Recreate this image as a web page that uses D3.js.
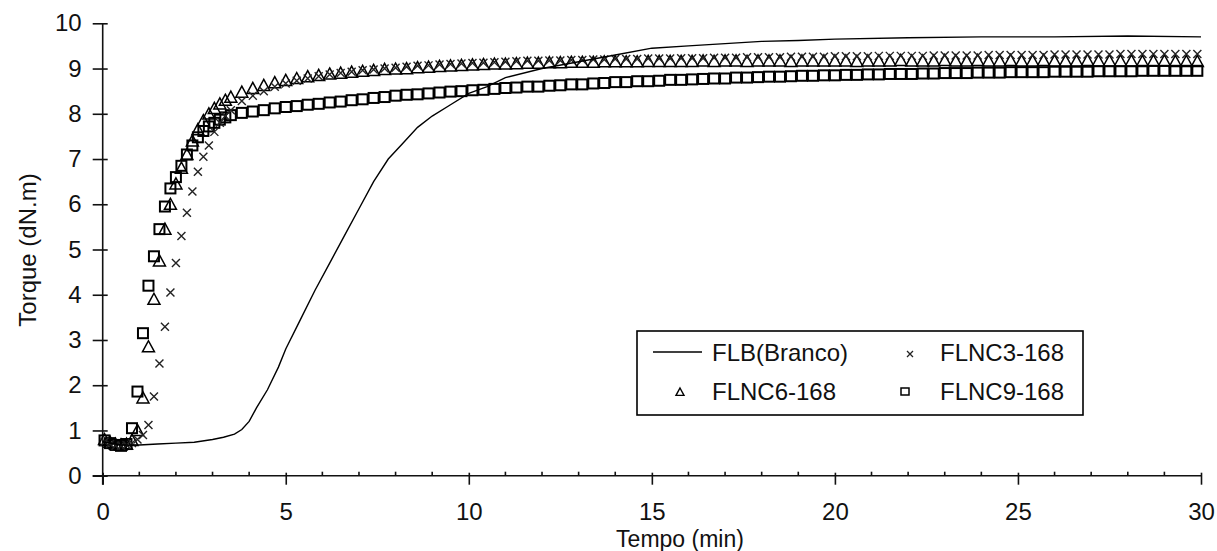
<!DOCTYPE html>
<html>
<head>
<meta charset="utf-8">
<script src="https://cdn.jsdelivr.net/npm/d3@7"></script>
<style>
body { margin: 0; background: #fff; }
text { font-family: "Liberation Sans", Arial, sans-serif; fill: #111; }
</style>
</head>
<body>
<svg id="chart" width="1217" height="551"></svg>
<script>
// tempo (min) das leituras dos ensaios com carga
var tempos = [0.05, 0.2, 0.35, 0.5, 0.65, 0.8, 0.95, 1.1, 1.25, 1.4, 1.55, 1.7, 1.85, 2.0, 2.15, 2.3,
  2.45, 2.6, 2.75, 2.9, 3.05, 3.2, 3.35, 3.5,
  3.8, 4.1, 4.4, 4.7, 5.0, 5.3, 5.6, 5.9, 6.2, 6.5, 6.8, 7.1, 7.4, 7.7, 8.0, 8.3, 8.6, 8.9, 9.2, 9.5, 9.8,
  10.1, 10.4, 10.7, 11.0, 11.3, 11.6, 11.9, 12.2, 12.5, 12.8, 13.1, 13.4, 13.7, 14.0, 14.3, 14.6, 14.9,
  15.2, 15.5, 15.8, 16.1, 16.4, 16.7, 17.0, 17.3, 17.6, 17.9, 18.2, 18.5, 18.8, 19.1, 19.4, 19.7, 20.0,
  20.3, 20.6, 20.9, 21.2, 21.5, 21.8, 22.1, 22.4, 22.7, 23.0, 23.3, 23.6, 23.9, 24.2, 24.5, 24.8, 25.1,
  25.4, 25.7, 26.0, 26.3, 26.6, 26.9, 27.2, 27.5, 27.8, 28.1, 28.4, 28.7, 29.0, 29.3, 29.6, 29.9];

var flnc3 = [0.75, 0.7, 0.66, 0.66, 0.68, 0.72, 0.8, 0.9, 1.12, 1.75, 2.48, 3.29, 4.05, 4.7, 5.3, 5.81,
  6.28, 6.72, 7.05, 7.3, 7.6, 7.8, 7.95, 8.08,
  8.28, 8.4, 8.5, 8.6, 8.67, 8.73, 8.78, 8.83, 8.87, 8.9, 8.93, 8.96, 8.98, 9.0, 9.02, 9.04, 9.06, 9.07, 9.09, 9.1, 9.11,
  9.12, 9.13, 9.14, 9.15, 9.16, 9.17, 9.17, 9.18, 9.18, 9.19, 9.19, 9.2, 9.2, 9.21, 9.21, 9.21, 9.22,
  9.22, 9.22, 9.23, 9.23, 9.23, 9.24, 9.24, 9.24, 9.25, 9.25, 9.25, 9.25, 9.26, 9.26, 9.26, 9.26, 9.27,
  9.27, 9.27, 9.27, 9.28, 9.28, 9.28, 9.28, 9.28, 9.29, 9.29, 9.29, 9.29, 9.29, 9.3, 9.3, 9.3, 9.3,
  9.3, 9.3, 9.31, 9.31, 9.31, 9.31, 9.31, 9.31, 9.32, 9.32, 9.32, 9.32, 9.32, 9.32, 9.32, 9.32];

var flnc6 = [0.8, 0.74, 0.7, 0.68, 0.7, 0.78, 1.0, 1.72, 2.85, 3.9, 4.75, 5.45, 6.0, 6.45, 6.8, 7.1,
  7.4, 7.65, 7.85, 8.0, 8.12, 8.22, 8.3, 8.37,
  8.48, 8.56, 8.63, 8.69, 8.74, 8.78, 8.82, 8.85, 8.88, 8.9, 8.92, 8.94, 8.96, 8.98, 8.99, 9.0, 9.02, 9.03, 9.05, 9.06, 9.07,
  9.08, 9.09, 9.1, 9.1, 9.11, 9.12, 9.12, 9.13, 9.13, 9.14, 9.14, 9.14, 9.15, 9.15, 9.15, 9.15, 9.16,
  9.16, 9.16, 9.16, 9.16, 9.17, 9.16, 9.17, 9.17, 9.16, 9.17, 9.17, 9.17, 9.16, 9.17, 9.17, 9.17, 9.17,
  9.17, 9.16, 9.17, 9.17, 9.17, 9.18, 9.17, 9.17, 9.17, 9.18, 9.17, 9.17, 9.18, 9.17, 9.17, 9.18, 9.17,
  9.17, 9.18, 9.17, 9.17, 9.17, 9.18, 9.17, 9.17, 9.17, 9.17, 9.16, 9.17, 9.17, 9.16, 9.16, 9.16];

var flnc9 = [0.78, 0.72, 0.68, 0.66, 0.7, 1.05, 1.86, 3.15, 4.2, 4.85, 5.45, 5.95, 6.35, 6.6, 6.85, 7.1,
  7.3, 7.48, 7.62, 7.72, 7.8, 7.87, 7.92, 7.97,
  8.02, 8.05, 8.08, 8.12, 8.15, 8.17, 8.2, 8.22, 8.25, 8.27, 8.3, 8.32, 8.35, 8.37, 8.4, 8.42, 8.43, 8.45, 8.47, 8.49, 8.5,
  8.52, 8.53, 8.55, 8.57, 8.58, 8.6, 8.6, 8.62, 8.63, 8.65, 8.65, 8.67, 8.68, 8.7, 8.7, 8.72, 8.72,
  8.73, 8.75, 8.75, 8.76, 8.77, 8.78, 8.78, 8.8, 8.8, 8.81, 8.82, 8.82, 8.83, 8.84, 8.84, 8.85, 8.85,
  8.86, 8.86, 8.87, 8.87, 8.88, 8.88, 8.88, 8.89, 8.89, 8.9, 8.9, 8.9, 8.91, 8.91, 8.91, 8.92, 8.92,
  8.92, 8.92, 8.93, 8.93, 8.93, 8.93, 8.94, 8.94, 8.94, 8.94, 8.95, 8.95, 8.95, 8.95, 8.95, 8.95];

// branco (linha continua)
var tempoBranco = [0, 0.5, 1, 1.5, 2, 2.5, 3, 3.3, 3.6, 3.8, 4.0, 4.2, 4.5, 4.8, 5.0, 5.4, 5.8, 6.2, 6.6,
  7.0, 7.4, 7.8, 8.2, 8.6, 9.0, 9.5, 10, 10.5, 11, 12, 13, 14, 15, 16, 17, 18, 19, 20, 22, 24, 26, 28, 30];
var flb = [0.75, 0.68, 0.68, 0.7, 0.72, 0.74, 0.8, 0.85, 0.92, 1.02, 1.2, 1.5, 1.9, 2.4, 2.8, 3.45, 4.1,
  4.7, 5.3, 5.9, 6.5, 7.0, 7.35, 7.7, 7.95, 8.2, 8.45, 8.6, 8.8, 9.0, 9.15, 9.3, 9.45, 9.5, 9.55, 9.6,
  9.62, 9.65, 9.68, 9.7, 9.7, 9.72, 9.7];

var xTicks = [0, 5, 10, 15, 20, 25, 30];
var yTicks = [0, 1, 2, 3, 4, 5, 6, 7, 8, 9, 10];
var legendas = ["FLB(Branco)", "FLNC3-168", "FLNC6-168", "FLNC9-168"];

var svg = d3.select("#chart");

var x = d3.scaleLinear().domain([0, 30]).range([102.7, 1201]);
var y = d3.scaleLinear().domain([0, 10]).range([475.7, 23.3]);

// eixo y
var gy = svg.append("g")
  .attr("transform", "translate(" + x(0) + ",0)")
  .call(d3.axisLeft(y).tickValues(yTicks).tickSize(10).tickPadding(11));
gy.selectAll(".tick line").attr("x2", 5).attr("x1", -10).attr("stroke", "#111").attr("stroke-width", 1.6);
gy.select(".domain").attr("stroke", "#111").attr("stroke-width", 1.6)
  .attr("d", "M0," + y(10) + "V" + (y(0) + 9));
gy.selectAll(".tick text").attr("font-size", 24).attr("fill", "#111");

// eixo x
var gx = svg.append("g")
  .attr("transform", "translate(0," + y(0) + ")")
  .call(d3.axisBottom(x).tickValues(xTicks).tickSize(9).tickPadding(18));
gx.selectAll(".tick line").attr("y1", -3).attr("stroke", "#111").attr("stroke-width", 1.6);
gx.select(".domain").attr("stroke", "#111").attr("stroke-width", 1.6)
  .attr("d", "M" + (x(0) - 10) + ",0H" + x(30));
gx.selectAll(".tick text").attr("font-size", 24).attr("fill", "#111");

// marcas menores
var minors = d3.range(0, 31).filter(function(d) { return d % 5 != 0; });
gx.selectAll(".minor").data(minors).enter().append("line")
  .attr("class", "minor")
  .attr("x1", function(d) { return x(d); })
  .attr("x2", function(d) { return x(d); })
  .attr("y1", -4).attr("y2", 0)
  .attr("stroke", "#111").attr("stroke-width", 1.6);

svg.append("text")
  .attr("x", 680).attr("y", 547)
  .attr("text-anchor", "middle")
  .attr("font-size", 23)
  .text("Tempo (min)");

svg.append("text")
  .attr("transform", "translate(36,250) rotate(-90)")
  .attr("text-anchor", "middle")
  .attr("font-size", 24)
  .text("Torque (dN.m)");

// simbolos
function xis(s) { return "M" + (-s) + "," + (-s) + "L" + s + "," + s + "M" + (-s) + "," + s + "L" + s + "," + (-s); }
function tri(s) { return "M0," + (-s) + "L" + s + "," + (s * 0.85) + "L" + (-s) + "," + (s * 0.85) + "Z"; }

var pts3 = tempos.map(function(t, i) { return [t, flnc3[i]]; });
var pts6 = tempos.map(function(t, i) { return [t, flnc6[i]]; });
var pts9 = tempos.map(function(t, i) { return [t, flnc9[i]]; });

svg.append("g").selectAll("path").data(pts9).enter().append("rect")
  .attr("x", function(d) { return x(d[0]) - 5; })
  .attr("y", function(d) { return y(d[1]) - 5; })
  .attr("width", 10).attr("height", 10)
  .attr("fill", "none").attr("stroke", "#000").attr("stroke-width", 2);

svg.append("g").selectAll("path").data(pts6).enter().append("path")
  .attr("transform", function(d) { return "translate(" + x(d[0]) + "," + y(d[1]) + ")"; })
  .attr("d", tri(6))
  .attr("fill", "none").attr("stroke", "#000").attr("stroke-width", 1.5);

svg.append("g").selectAll("path").data(pts3).enter().append("path")
  .attr("transform", function(d) { return "translate(" + x(d[0]) + "," + y(d[1]) + ")"; })
  .attr("d", xis(4))
  .attr("fill", "none").attr("stroke", "#222").attr("stroke-width", 1.4);

var linha = d3.line()
  .x(function(d, i) { return x(tempoBranco[i]); })
  .y(function(d) { return y(d); });

svg.append("path")
  .datum(flb)
  .attr("d", linha)
  .attr("fill", "none").attr("stroke", "#000").attr("stroke-width", 1.4);

// legenda
var leg = svg.append("g");
leg.append("rect")
  .attr("x", 637).attr("y", 331).attr("width", 446).attr("height", 84)
  .attr("fill", "#fff").attr("stroke", "#000").attr("stroke-width", 1.6);

leg.append("line").attr("x1", 653).attr("x2", 702).attr("y1", 352).attr("y2", 352)
  .attr("stroke", "#000").attr("stroke-width", 1.4);
leg.append("path").attr("transform", "translate(910,354)").attr("d", xis(3))
  .attr("stroke", "#222").attr("stroke-width", 1.3);
leg.append("path").attr("transform", "translate(680,392)").attr("d", tri(4))
  .attr("fill", "none").attr("stroke", "#000").attr("stroke-width", 1.4);
leg.append("rect").attr("x", 901).attr("y", 388).attr("width", 8).attr("height", 7)
  .attr("fill", "none").attr("stroke", "#000").attr("stroke-width", 1.5);

var legPos = [[712, 361], [940, 361], [712, 400], [940, 400]];
leg.selectAll(".lt").data(legendas).enter().append("text")
  .attr("x", function(d, i) { return legPos[i][0]; })
  .attr("y", function(d, i) { return legPos[i][1]; })
  .attr("font-size", 24)
  .text(function(d) { return d; });
</script>
</body>
</html>
